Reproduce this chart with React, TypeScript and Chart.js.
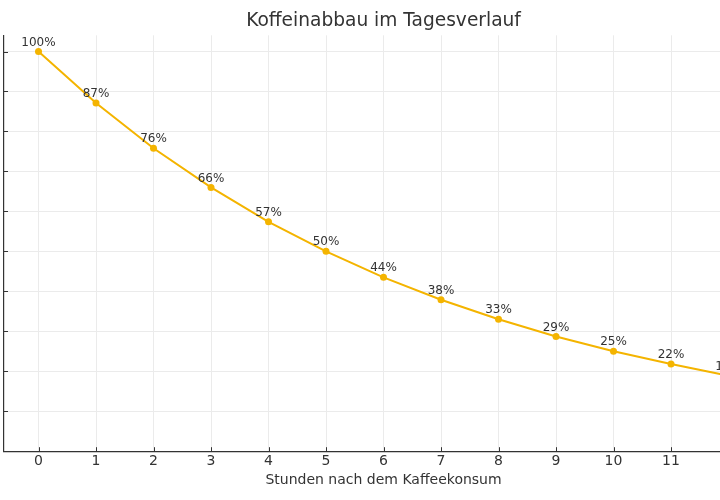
import React, { useEffect, useRef } from "react";
import { Chart, registerables } from "chart.js";

Chart.register(...registerables);

const hours = [0, 1, 2, 3, 4, 5, 6, 7, 8, 9, 10, 11, 12];
const caffeine = [100, 87.1, 75.8, 66.0, 57.4, 50.0, 43.5, 37.9, 33.0, 28.7, 25.0, 21.8, 18.9];
const yTicks = [0, 10, 20, 30, 40, 50, 60, 70, 80, 90, 100];

const FONT = "'DejaVu Sans', sans-serif";
const LINE = "#F4B400";
const TEXT = "#333333";

const tickMarks = {
  id: "tickMarks",
  afterDatasetsDraw(chart: any) {
    const { ctx, scales } = chart;
    const xs = scales.x;
    const ys = scales.y;
    ctx.save();
    ctx.strokeStyle = TEXT;
    ctx.lineWidth = 1;
    ctx.beginPath();
    xs.ticks.forEach((t: any) => {
      const px = Math.round(xs.getPixelForValue(t.value)) + 0.5;
      ctx.moveTo(px, ys.bottom);
      ctx.lineTo(px, ys.bottom - 4);
    });
    ys.ticks.forEach((t: any) => {
      const py = Math.round(ys.getPixelForValue(t.value)) + 0.5;
      ctx.moveTo(xs.left, py);
      ctx.lineTo(xs.left + 4, py);
    });
    ctx.stroke();
    ctx.restore();
  },
};

const dataLabels = {
  id: "dataLabels",
  afterDatasetsDraw(chart: any) {
    const { ctx } = chart;
    const meta = chart.getDatasetMeta(0);
    ctx.save();
    ctx.font = `12px ${FONT}`;
    ctx.fillStyle = TEXT;
    ctx.textAlign = "center";
    ctx.textBaseline = "middle";
    meta.data.forEach((pt: any, i: number) => {
      ctx.fillText(`${Math.round(caffeine[i])}%`, pt.x, pt.y - 9);
    });
    ctx.restore();
  },
};

export default function App() {
  const ref = useRef<HTMLCanvasElement>(null);
  useEffect(() => {
    if (!ref.current) return;
    const chart = new Chart(ref.current, {
      type: "line",
      data: {
        datasets: [
          {
            data: hours.map((h, i) => ({ x: h, y: caffeine[i] })),
            borderColor: LINE,
            backgroundColor: LINE,
            borderWidth: 2,
            pointRadius: 3.5,
            pointBackgroundColor: LINE,
            pointBorderWidth: 0,
            tension: 0,
          },
        ],
      },
      options: {
        animation: false,
        responsive: false,
        layout: { padding: { left: 4, right: 5, top: 0, bottom: 6 } },
        plugins: {
          legend: { display: false },
          tooltip: { enabled: false },
          title: {
            display: true,
            text: "Koffeinabbau im Tagesverlauf",
            color: TEXT,
            font: { family: FONT, size: 18.6, weight: "normal" },
            padding: { top: 10, bottom: 3 },
          },
        },
        scales: {
          x: {
            type: "linear",
            min: -0.6,
            max: 12.6,
            afterBuildTicks: (s: any) => {
              s.ticks = hours.map((v) => ({ value: v }));
            },
            ticks: {
              color: TEXT,
              font: { family: FONT, size: 14, lineHeight: 1 },
              padding: 3,
              callback: (v: any) => String(v),
            },
            grid: { color: "#ebebeb", drawTicks: false, lineWidth: 1 },
            border: { display: true, color: TEXT, width: 1.2 },
            title: {
              display: true,
              text: "Stunden nach dem Kaffeekonsum",
              color: TEXT,
              font: { family: FONT, size: 14 },
              padding: { top: 1, bottom: 5 },
            },
          },
          y: {
            type: "linear",
            min: 0,
            max: 104.05,
            afterBuildTicks: (s: any) => {
              s.ticks = yTicks.map((v) => ({ value: v }));
            },
            afterFit: (s: any) => {
              s.width = 0;
            },
            ticks: { display: false },
            grid: { color: "#ebebeb", drawTicks: false, lineWidth: 1 },
            border: { display: true, color: TEXT, width: 1.2 },
          },
        },
      },
      plugins: [tickMarks, dataLabels],
    });
    return () => chart.destroy();
  }, []);

  return (
    <div
      style={{
        position: "fixed",
        left: 0,
        top: 0,
        width: 720,
        height: 500,
        overflow: "hidden",
        background: "#ffffff",
      }}
    >
      <canvas ref={ref} width={768} height={500} />
    </div>
  );
}
